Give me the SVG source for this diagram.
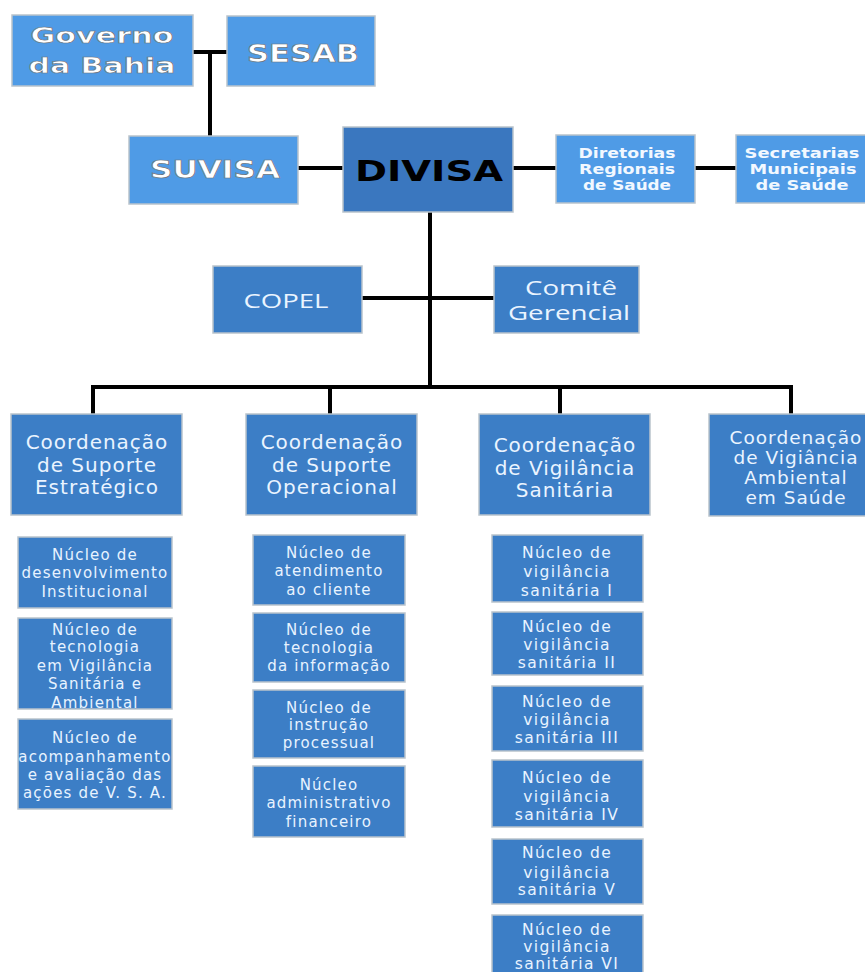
<svg xmlns="http://www.w3.org/2000/svg" width="865" height="972" viewBox="0 0 865 972">
<style>
.bg{fill:#ffffff}
.lt{fill:#4f9be6;stroke:#b9c3cc;stroke-width:1.5}
.dk{fill:#3c7ec6;stroke:#b9c3cc;stroke-width:1.5}
.dv{fill:#3a77bf;stroke:#b9c3cc;stroke-width:1.5}
.ol{font-family:"DejaVu Sans",Verdana,sans-serif;font-weight:bold;fill:#ffffff;stroke:#6b7580;stroke-width:0.7;text-anchor:middle}
.sm{font-family:"DejaVu Sans",Verdana,sans-serif;font-weight:bold;font-size:13.5px;fill:#f2f8ff;text-anchor:middle}
.cp{font-family:"Open Sans","DejaVu Sans",sans-serif;font-size:20px;fill:#eaf4ff;text-anchor:middle}
.co{font-family:"DejaVu Sans",Verdana,sans-serif;font-size:20px;letter-spacing:1px;fill:#eaf4ff;text-anchor:middle}
.c4{font-family:"DejaVu Sans",Verdana,sans-serif;font-size:18.5px;letter-spacing:1px;fill:#eaf4ff;text-anchor:middle}
.nu{font-family:"DejaVu Sans",Verdana,sans-serif;font-size:15px;letter-spacing:1.2px;fill:#e8f3ff;text-anchor:middle}
.n3{font-family:"DejaVu Sans",Verdana,sans-serif;font-size:15.5px;letter-spacing:1.4px;fill:#e8f3ff;text-anchor:middle}
.ln{stroke:#000000;stroke-width:4;fill:none}
</style>
<rect class="bg" x="0" y="0" width="865" height="972"/>
<g id="connectors">
<path class="ln" d="M193 52H227M210 52V136"/>
<path class="ln" d="M298 168H343M513 168H556M695 168H736"/>
<path class="ln" d="M430 212V388M362 298H494"/>
<path class="ln" d="M91 387H793M93 387V414M330 387V414M560 387V414M791 387V414"/>
</g>
<g id="governo"><rect class="lt" x="12" y="15" width="181" height="71"/>
<text class="ol" font-size="22" x="102" y="43" textLength="143" lengthAdjust="spacingAndGlyphs">Governo</text>
<text class="ol" font-size="22" x="102" y="73" textLength="147" lengthAdjust="spacingAndGlyphs">da Bahia</text></g>
<g id="sesab"><rect class="lt" x="227" y="16" width="148" height="70"/>
<text class="ol" font-size="24" x="303" y="62" textLength="112" lengthAdjust="spacingAndGlyphs">SESAB</text></g>
<g id="suvisa"><rect class="lt" x="129" y="136" width="169" height="68"/>
<text class="ol" font-size="24" x="215" y="178" textLength="130" lengthAdjust="spacingAndGlyphs">SUVISA</text></g>
<g id="divisa"><rect class="dv" x="343" y="127" width="170" height="85"/>
<text font-family="'DejaVu Sans',Verdana,sans-serif" font-weight="bold" font-size="28" fill="#000" text-anchor="middle" x="429" y="181" textLength="148" lengthAdjust="spacingAndGlyphs">DIVISA</text></g>
<g id="diretorias"><rect class="lt" x="556" y="135" width="139" height="68"/>
<text class="sm" x="627" y="158" textLength="97" lengthAdjust="spacingAndGlyphs">Diretorias</text>
<text class="sm" x="627" y="174" textLength="96" lengthAdjust="spacingAndGlyphs">Regionais</text>
<text class="sm" x="627" y="190" textLength="88" lengthAdjust="spacingAndGlyphs">de Saúde</text></g>
<g id="secretarias"><rect class="lt" x="736" y="135" width="135" height="68"/>
<text class="sm" x="802" y="158" textLength="115" lengthAdjust="spacingAndGlyphs">Secretarias</text>
<text class="sm" x="803" y="174" textLength="107" lengthAdjust="spacingAndGlyphs">Municipais</text>
<text class="sm" x="802" y="190" textLength="93" lengthAdjust="spacingAndGlyphs">de Saúde</text></g>
<g id="copel"><rect class="dk" x="213" y="266" width="149" height="67"/>
<text class="cp" x="286" y="308" textLength="85" lengthAdjust="spacingAndGlyphs">COPEL</text></g>
<g id="comite"><rect class="dk" x="494" y="266" width="145" height="67"/>
<text class="cp" x="571" y="295" textLength="92" lengthAdjust="spacingAndGlyphs">Comitê</text>
<text class="cp" x="569" y="320" textLength="122" lengthAdjust="spacingAndGlyphs">Gerencial</text></g>
<g id="coord1"><rect class="dk" x="11" y="414" width="171" height="101"/>
<text class="co" x="97" y="449">Coordenação</text><text class="co" x="97" y="472">de Suporte</text><text class="co" x="97" y="494">Estratégico</text></g>
<g id="coord2"><rect class="dk" x="246" y="414" width="171" height="101"/>
<text class="co" x="332" y="449">Coordenação</text><text class="co" x="332" y="472">de Suporte</text><text class="co" x="332" y="494">Operacional</text></g>
<g id="coord3"><rect class="dk" x="479" y="414" width="171" height="101"/>
<text class="co" x="565" y="452">Coordenação</text><text class="co" x="565" y="475">de Vigilância</text><text class="co" x="565" y="497">Sanitária</text></g>
<g id="coord4"><rect class="dk" x="709" y="414" width="175" height="102"/>
<text class="c4" x="796" y="444">Coordenação</text><text class="c4" x="796" y="464">de Vigiância</text><text class="c4" x="796" y="484">Ambiental</text><text class="c4" x="796" y="504">em Saúde</text></g>
<g id="n11"><rect class="dk" x="18" y="537" width="154" height="71"/>
<text class="nu" x="95" y="560">Núcleo de</text><text class="nu" x="95" y="578">desenvolvimento</text><text class="nu" x="95" y="597">Institucional</text></g>
<g id="n12"><rect class="dk" x="18" y="618" width="154" height="91"/>
<text class="nu" x="95" y="635">Núcleo de</text><text class="nu" x="95" y="652">tecnologia</text><text class="nu" x="95" y="671">em Vigilância</text><text class="nu" x="95" y="689">Sanitária e</text><text class="nu" x="95" y="708">Ambiental</text></g>
<g id="n13"><rect class="dk" x="18" y="719" width="154" height="90"/>
<text class="nu" x="95" y="743">Núcleo de</text><text class="nu" x="95" y="762">acompanhamento</text><text class="nu" x="95" y="780">e avaliação das</text><text class="nu" x="95" y="798">ações de V. S. A.</text></g>
<g id="n21"><rect class="dk" x="253" y="535" width="152" height="70"/>
<text class="nu" x="329" y="558">Núcleo de</text><text class="nu" x="329" y="576">atendimento</text><text class="nu" x="329" y="595">ao cliente</text></g>
<g id="n22"><rect class="dk" x="253" y="613" width="152" height="69"/>
<text class="nu" x="329" y="635">Núcleo de</text><text class="nu" x="329" y="653">tecnologia</text><text class="nu" x="329" y="671">da informação</text></g>
<g id="n23"><rect class="dk" x="253" y="690" width="152" height="68"/>
<text class="nu" x="329" y="713">Núcleo de</text><text class="nu" x="329" y="730">instrução</text><text class="nu" x="329" y="748">processual</text></g>
<g id="n24"><rect class="dk" x="253" y="766" width="152" height="71"/>
<text class="nu" x="329" y="790">Núcleo</text><text class="nu" x="329" y="808">administrativo</text><text class="nu" x="329" y="827">financeiro</text></g>
<g id="n31"><rect class="dk" x="492" y="535" width="151" height="67"/>
<text class="n3" x="567" y="558">Núcleo de</text><text class="n3" x="567" y="577">vigilância</text><text class="n3" x="567" y="596">sanitária I</text></g>
<g id="n32"><rect class="dk" x="492" y="612" width="151" height="63"/>
<text class="n3" x="567" y="632">Núcleo de</text><text class="n3" x="567" y="650">vigilância</text><text class="n3" x="567" y="668">sanitária II</text></g>
<g id="n33"><rect class="dk" x="492" y="686" width="151" height="65"/>
<text class="n3" x="567" y="707">Núcleo de</text><text class="n3" x="567" y="725">vigilância</text><text class="n3" x="567" y="743">sanitária III</text></g>
<g id="n34"><rect class="dk" x="492" y="760" width="151" height="67"/>
<text class="n3" x="567" y="783">Núcleo de</text><text class="n3" x="567" y="802">vigilância</text><text class="n3" x="567" y="820">sanitária IV</text></g>
<g id="n35"><rect class="dk" x="492" y="839" width="151" height="65"/>
<text class="n3" x="567" y="858">Núcleo de</text><text class="n3" x="567" y="878">vigilância</text><text class="n3" x="567" y="895">sanitária V</text></g>
<g id="n36"><rect class="dk" x="492" y="915" width="151" height="60"/>
<text class="n3" x="567" y="935">Núcleo de</text><text class="n3" x="567" y="952">vigilância</text><text class="n3" x="567" y="969">sanitária VI</text></g>
</svg>
